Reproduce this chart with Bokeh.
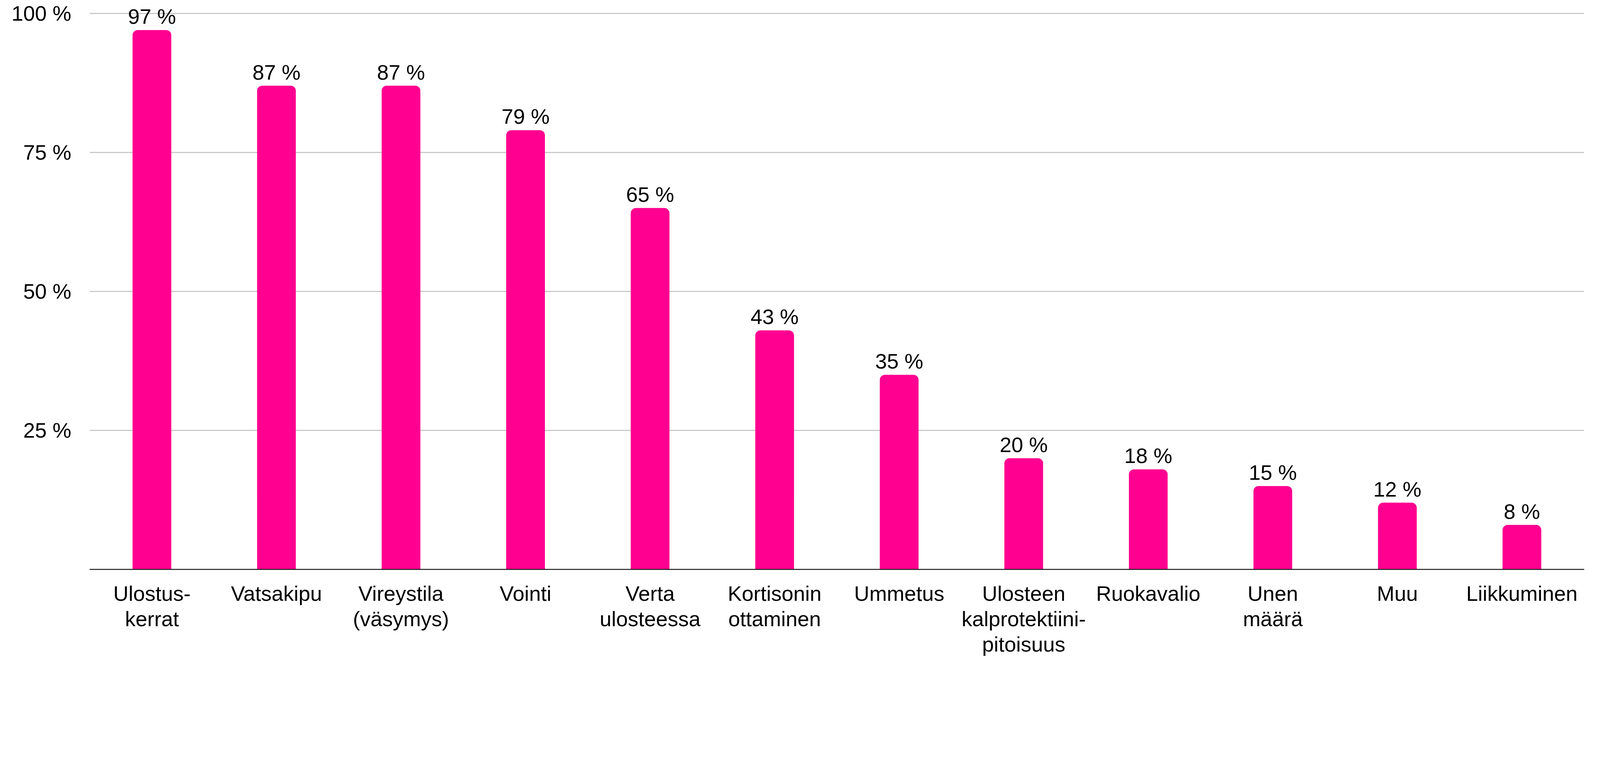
from bokeh.plotting import figure
from bokeh.models import FactorRange, Range1d, FixedTicker, PrintfTickFormatter, ColumnDataSource
from bokeh.core.properties import value
from bokeh.embed import file_html
from bokeh.resources import INLINE

categories = [
    "Ulostus-\nkerrat",
    "Vatsakipu",
    "Vireystila\n(väsymys)",
    "Vointi",
    "Verta\nulosteessa",
    "Kortisonin\nottaminen",
    "Ummetus",
    "Ulosteen\nkalprotektiini-\npitoisuus",
    "Ruokavalio",
    "Unen\nmäärä",
    "Muu",
    "Liikkuminen",
]
values = [97, 87, 87, 79, 65, 43, 35, 20, 18, 15, 12, 8]
value_labels = [f"{v} %" for v in values]
y_ticks = [25, 50, 75, 100]

FONT = "Liberation Sans"
PINK = "#FF0090"
FS = "54px"

src = ColumnDataSource(dict(cat=categories, val=values, lab=value_labels))

p = figure(
    width=4098, height=1700,
    x_range=FactorRange(factors=categories, range_padding=0),
    y_range=Range1d(0, 102.38),
    output_backend="svg", toolbar_location=None,
    min_border_left=229, min_border_right=43,
    min_border_top=0, min_border_bottom=242,
)
p.outline_line_color = None
p.background_fill_color = "white"
p.border_fill_color = "white"

p.vbar(x="cat", top="val", width=0.311, source=src, fill_color=PINK,
       line_color=None, border_radius=(13, 13, 0, 0))

p.text(x="cat", y="val", text="lab", source=src, y_offset=-5,
       text_align="center", text_baseline="bottom",
       text_font=value(FONT), text_font_size=FS, text_color="black")

# grid
p.xgrid.grid_line_color = None
p.ygrid.ticker = FixedTicker(ticks=[0] + y_ticks)
p.ygrid.grid_line_color = "#C0C0C0"
p.ygrid.grid_line_width = 2.5

# y axis
ya = p.yaxis[0]
ya.ticker = FixedTicker(ticks=y_ticks)
ya.formatter = PrintfTickFormatter(format="%d %%")
ya.axis_line_color = None
ya.major_tick_line_color = None
ya.minor_tick_line_color = None
ya.major_tick_out = 0
ya.major_tick_in = 0
ya.major_label_standoff = 47
ya.major_label_text_font = FONT
ya.major_label_text_font_size = FS
ya.major_label_text_color = "black"

# x axis
xa = p.xaxis[0]
xa.axis_line_color = "#1a1a1a"
xa.axis_line_width = 2.5
xa.major_tick_line_color = None
xa.minor_tick_line_color = None
xa.major_tick_out = 0
xa.major_tick_in = 0
xa.major_label_standoff = 31
xa.major_label_text_font = FONT
xa.major_label_text_font_size = FS
xa.major_label_text_color = "black"
xa.major_label_orientation = "horizontal"
xa.major_label_text_line_height = 1.09

open("out.html", "w").write(file_html(p, INLINE))
